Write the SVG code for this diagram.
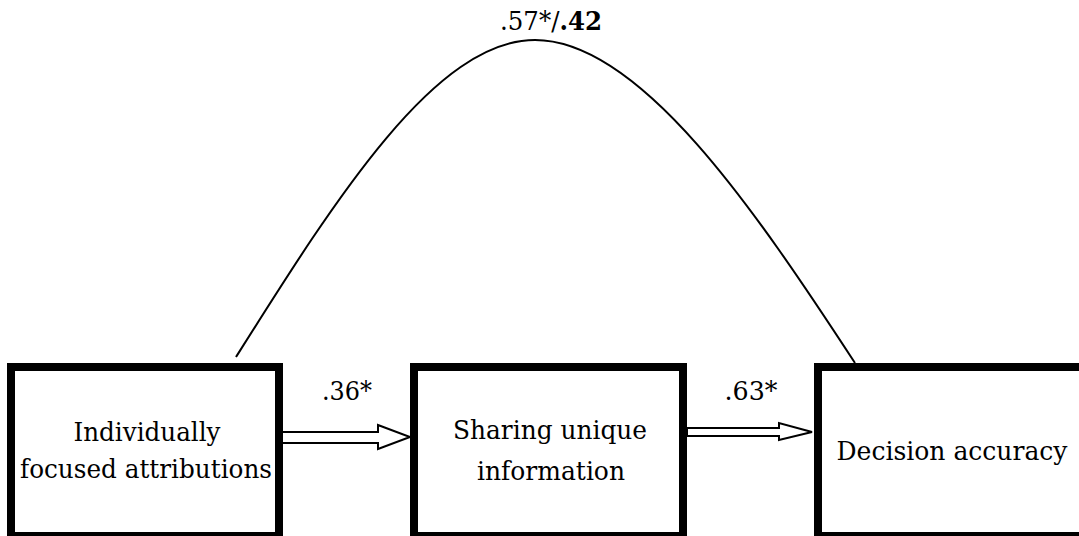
<svg xmlns="http://www.w3.org/2000/svg" width="1079" height="536" viewBox="0 0 1079 536">
<style>
.box{fill:#fff;stroke:#000;stroke-width:8}
.lbl{font-family:"DejaVu Serif",serif;font-size:26px;fill:#000;text-anchor:middle}
.arrow{fill:#fff;stroke:#000;stroke-width:2;stroke-linejoin:miter}
.curve{fill:none;stroke:#000;stroke-width:2}
</style>
<rect width="1079" height="536" fill="#fff"/>
<g id="connectors">
<path class="curve" d="M236,357 C335,200 435,40 535,40 C640,40 755,210 855,363"/>
<polygon class="arrow" points="282,432 378,432 378,425 410,437 378,449 378,443 282,443"/>
<polygon class="arrow" points="687,428 779,428 779,423 812,432 779,440 779,436 687,436"/>
<text class="lbl" x="347" y="400" textLength="50" lengthAdjust="spacingAndGlyphs">.36*</text>
<text class="lbl" x="751" y="400" textLength="53" lengthAdjust="spacingAndGlyphs">.63*</text>
<text class="lbl" x="551" y="30" textLength="102" lengthAdjust="spacingAndGlyphs">.57*/<tspan font-weight="bold">.42</tspan></text>
</g>
<g id="node-attributions">
<rect class="box" x="11" y="367" width="268" height="169"/>
<text class="lbl" x="147" y="441" textLength="147" lengthAdjust="spacingAndGlyphs">Individually</text>
<text class="lbl" x="146" y="478" textLength="252" lengthAdjust="spacingAndGlyphs">focused attributions</text>
</g>
<g id="node-sharing">
<rect class="box" x="414" y="367" width="269" height="169"/>
<text class="lbl" x="550" y="439" textLength="194" lengthAdjust="spacingAndGlyphs">Sharing unique</text>
<text class="lbl" x="551" y="480" textLength="148" lengthAdjust="spacingAndGlyphs">information</text>
</g>
<g id="node-accuracy">
<rect class="box" x="818" y="367" width="275" height="169"/>
<text class="lbl" x="952" y="460" textLength="231" lengthAdjust="spacingAndGlyphs">Decision accuracy</text>
</g>
</svg>
